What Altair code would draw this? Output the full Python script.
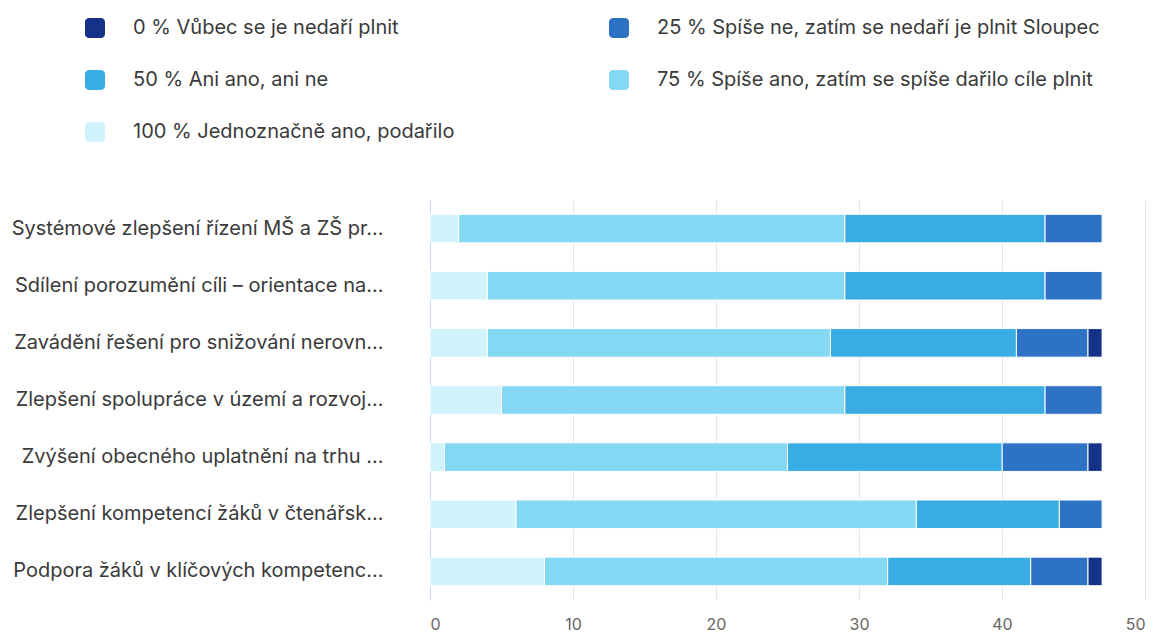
import altair as alt
import pandas as pd

categories = [
    "Systémové zlepšení řízení MŠ a ZŠ pr...",
    "Sdílení porozumění cíli – orientace na...",
    "Zavádění řešení pro snižování nerovn...",
    "Zlepšení spolupráce v území a rozvoj...",
    "Zvýšení obecného uplatnění na trhu ...",
    "Zlepšení kompetencí žáků v čtenářsk...",
    "Podpora žáků v klíčových kompetenc...",
]
series = [
    "0 % Vůbec se je nedaří plnit",
    "25 % Spíše ne, zatím se nedaří je plnit Sloupec",
    "50 % Ani ano, ani ne",
    "75 % Spíše ano, zatím se spíše dařilo cíle plnit",
    "100 % Jednoznačně ano, podařilo",
]
colors = ["#143287", "#2d72c4", "#3aace4", "#84d8f3", "#d0f3fb"]
v0 = [0, 0, 1, 0, 1, 0, 1]
v25 = [4, 4, 5, 4, 6, 3, 4]
v50 = [14, 14, 13, 14, 15, 10, 10]
v75 = [27, 25, 24, 24, 24, 28, 24]
v100 = [2, 4, 4, 5, 1, 6, 8]
x_ticks = [0, 10, 20, 30, 40, 50]

values = [v0, v25, v50, v75, v100]
rows = []
for si, (s, vals) in enumerate(zip(series, values)):
    for c, v in zip(categories, vals):
        rows.append({"cat": c, "series": s, "value": v, "ord": 4 - si})
df = pd.DataFrame(rows)

rounded = ("M-0.6,-1H0.6A0.4,0.4 0 0 1 1,-0.6V0.6A0.4,0.4 0 0 1 0.6,1"
           "H-0.6A0.4,0.4 0 0 1 -1,0.6V-0.6A0.4,0.4 0 0 1 -0.6,-1Z")

chart = alt.Chart(df).mark_bar(stroke="#ffffff", strokeWidth=1).encode(
    y=alt.Y("cat:N", sort=categories, title=None,
            scale=alt.Scale(paddingInner=0.5, paddingOuter=0.25),
            axis=alt.Axis(labelFont="Inter", labelFontSize=20, labelColor="#3a3a3a",
                          labelPadding=47, labelLimit=420, ticks=False,
                          domainColor="#ccd6eb", domainWidth=1, grid=False)),
    x=alt.X("value:Q", title=None, stack="zero",
            scale=alt.Scale(domain=[0, 50], nice=False),
            axis=alt.Axis(values=x_ticks, labelFont="Inter", labelFontSize=16,
                          labelColor="#666666", labelPadding=16, ticks=False,
                          domain=False, grid=True, gridColor="#e6e6e6")),
    color=alt.Color("series:N", sort=series,
                    scale=alt.Scale(domain=series, range=colors),
                    legend=alt.Legend(orient="none", legendX=-345, legendY=-182,
                                      direction="horizontal",
                                      columns=2, title=None, padding=0,
                                      symbolType=rounded, symbolSize=400,
                                      symbolStrokeWidth=0, symbolOpacity=1,
                                      labelFont="Inter", labelFontSize=20,
                                      labelColor="#3a3a3a", labelOffset=28,
                                      labelLimit=700, rowPadding=32,
                                      columnPadding=154)),
    order=alt.Order("ord:Q", sort="ascending"),
).properties(
    width=715, height=400,
    autosize=alt.AutoSizeParams(type="none"),
    padding={"left": 422, "top": 192, "right": 4, "bottom": 34},
).configure_view(stroke=None)

chart.save("out.html", embed_options={"renderer": "svg", "actions": False})
